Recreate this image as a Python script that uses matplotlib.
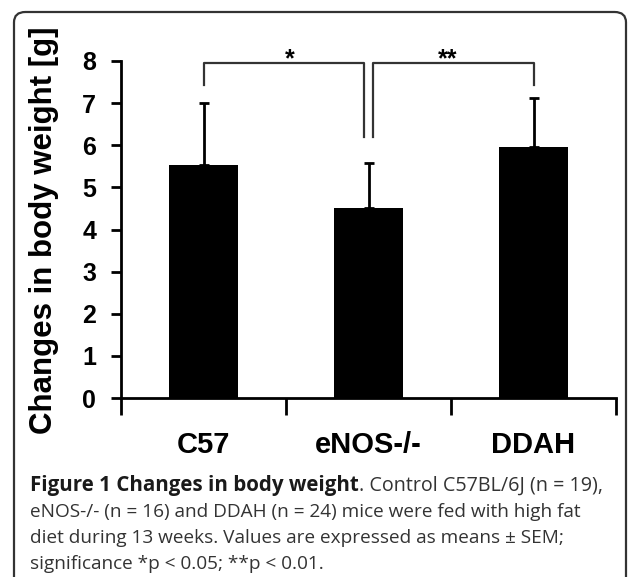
import matplotlib
matplotlib.use("Agg")
import matplotlib.pyplot as plt
from matplotlib.patches import FancyBboxPatch
import numpy as np

# data
groups = ["C57", "eNOS-/-", "DDAH"]
means = [5.52, 4.52, 5.95]
sem = [1.48, 1.05, 1.18]
yticks = [0, 1, 2, 3, 4, 5, 6, 7, 8]

caption_bold = "Figure 1 Changes in body weight"
caption_lines = [
    ". Control C57BL/6J (n = 19),",
    "eNOS-/- (n = 16) and DDAH (n = 24) mice were fed with high fat",
    "diet during 13 weeks. Values are expressed as means \u00b1 SEM;",
    "significance *p < 0.05; **p < 0.01.",
]

W, H = 633, 577
fig = plt.figure(figsize=(W / 100, H / 100), dpi=100)

# rounded frame, open at the bottom
frame = FancyBboxPatch((14 / W, -0.05), (626 - 14) / W, 1 - 12 / H + 0.05,
                       boxstyle="round,pad=0,rounding_size=0.018",
                       transform=fig.transFigure, fill=False,
                       edgecolor="#333333", linewidth=1.6)
fig.patches.append(frame)

ax = fig.add_axes([121 / W, 1 - 398 / H, (616 - 121) / W, (398 - 61) / H])
fnt = "Liberation Sans"

x = np.arange(len(groups)) + 0.5
ax.bar(x, means, width=0.42, color="black", zorder=2)
ax.errorbar(x, means, yerr=[np.zeros(len(sem)), sem], fmt="none",
            ecolor="black", elinewidth=2, capsize=3.5, capthick=2, zorder=1)

ax.set_xlim(0, 3)
ax.set_ylim(0, 8)
ax.set_yticks(yticks)
ax.set_yticklabels([str(t) for t in yticks], fontfamily=fnt,
                   fontweight="bold", fontsize=18)
ax.set_xticks([0, 1, 2, 3])
ax.set_xticklabels([])
ax.tick_params(axis="y", length=7, width=2, pad=11)
ax.tick_params(axis="x", length=12, width=2)
for s in ["top", "right"]:
    ax.spines[s].set_visible(False)
for s in ["left", "bottom"]:
    ax.spines[s].set_linewidth(2)

for xi, g in zip(x, groups):
    ax.text(xi, -1.12, g, ha="center", va="center", fontfamily=fnt,
            fontweight="bold", fontsize=21, transform=ax.transData)

fig.text(44 / W, 1 - 230.5 / H, "Changes in body weight [g]", rotation=90,
         ha="center", va="center", fontfamily=fnt, fontweight="bold",
         fontsize=22.5)

# significance brackets
bc = "#333333"
ax.plot([x[0], x[0], 1.47, 1.47], [7.43, 7.96, 7.96, 6.2], color=bc, lw=1.6,
        clip_on=False)
ax.plot([1.53, 1.53, x[2], x[2]], [6.2, 7.96, 7.96, 7.43], color=bc, lw=1.6,
        clip_on=False)
ax.text(1.02, 7.87, "*", ha="center", va="baseline", fontfamily=fnt,
        fontweight="bold", fontsize=18)
ax.text(1.98, 7.87, "**", ha="center", va="baseline", fontfamily=fnt,
        fontweight="bold", fontsize=18)

# caption
cfont = "Open Sans"
cy = [1 - 486 / H, 1 - 512 / H, 1 - 538 / H, 1 - 564 / H]
t0 = fig.text(30 / W, cy[0], caption_bold, fontfamily=cfont,
              fontweight="bold", fontsize=14.8, color="#1a1a1a", va="center")
fig.canvas.draw()
bb = t0.get_window_extent(fig.canvas.get_renderer())
fig.text(bb.x1 / W, cy[0], caption_lines[0], fontfamily=cfont, fontsize=14.2,
         color="#333333", va="center")
for yy, line in zip(cy[1:], caption_lines[1:]):
    fig.text(30 / W, yy, line, fontfamily=cfont, fontsize=13.7,
             color="#333333", va="center")

fig.savefig("out.png", dpi=100)
